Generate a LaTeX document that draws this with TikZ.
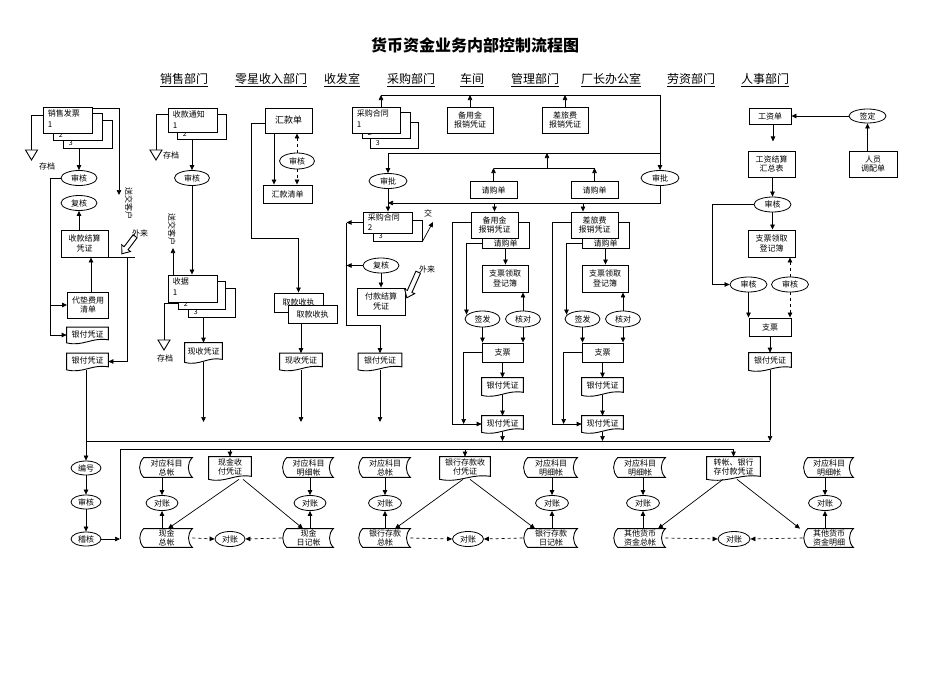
\documentclass[tikz,border=0pt]{standalone}
\usepackage{fontspec}
\setmainfont{Noto Sans CJK SC}
\usetikzlibrary{arrows.meta,shapes.geometric}
\newcommand\docnode[6]{%
  \node[minimum width=#4pt, minimum height=#5pt, inner sep=0pt] (#1) at (#2,#3) {};
  \draw[shapeline] (#1.south west) -- (#1.north west) -- (#1.north east) -- ([yshift=3pt]#1.south east)
     .. controls ([shift={(-0.4*#4pt,6pt)}]#1.south east) and ([shift={(0.4*#4pt,-4pt)}]#1.south west) .. (#1.south west) -- cycle;
  \node[docnode] (#1-t) at ([yshift=1pt]#1.center) {#6};
}
\newcommand\sdnode[6]{%
  \node[minimum width=#4pt, minimum height=#5pt, inner sep=0pt] (#1) at (#2,#3) {};
  \draw[shapeline] ([xshift=5pt]#1.north west) -- (#1.north east) to[out=-135,in=135] (#1.south east)
     -- ([xshift=5pt]#1.south west) to[out=135,in=-135] ([xshift=5pt]#1.north west) -- cycle;
  \node[sdtext] (#1-t) at ([xshift=1pt]#1.center) {#6};
}
\newcommand\archive[3]{%
  \coordinate (#1) at (#2,#3);
  \draw[shapeline] (#1) ++(-6,0) -- ++(12,0) -- ++(-6,10) -- cycle;
}
\newcommand\blockarrow[4]{%
  \begin{scope}[shift={(#1,#2)}, rotate=#3]
    \draw[shapeline] (-#4,-2.5) -- (#4-7,-2.5) -- (#4-7,-5.5) -- (#4,0) -- (#4-7,5.5) -- (#4-7,2.5) -- (-#4,2.5) -- cycle;
  \end{scope}
}
\begin{document}
\begin{tikzpicture}[x=1pt,y=-1pt,
  font=\fontsize{8pt}{9.5pt}\selectfont,
  line width=0.7pt,
  arr/.style={-{Triangle[length=5pt,width=4.5pt]}},
  box/.style={draw, fill=white, line width=0.9pt, align=center, inner sep=1pt},
  ell/.style={ellipse, draw, fill=white, line width=0.8pt, inner sep=0pt, minimum width=36pt, minimum height=15pt},
  docnode/.style={inner sep=1pt, align=center},
  sdtext/.style={inner sep=0pt, align=center, font=\fontsize{8pt}{9pt}\selectfont},
  shapeline/.style={line width=0.9pt, fill=white},
  stk/.style={align=left, inner sep=0pt, anchor=north west, font=\fontsize{8pt}{11pt}\selectfont},
  num/.style={inner sep=0pt, anchor=base west, font=\fontsize{7pt}{8pt}\selectfont},
  hdr/.style={font=\fontsize{12pt}{14pt}\selectfont},
  vtext/.style={rotate=-90, inner sep=0pt},
]
\useasboundingbox (0,0) rectangle (950,672);

% ---------- title and departments ----------
\node[font=\fontsize{16pt}{19pt}\selectfont\bfseries] (title) at (475,45) {货币资金业务内部控制流程图};
\node[hdr] (d1) at (184,80) {\underline{销售部门}};
\node[hdr] (d2) at (271,80) {\underline{零星收入部门}};
\node[hdr] (d3) at (342,80) {\underline{收发室}};
\node[hdr] (d4) at (411,80) {\underline{采购部门}};
\node[hdr] (d5) at (472,80) {\underline{车间}};
\node[hdr] (d6) at (535,80) {\underline{管理部门}};
\node[hdr] (d7) at (611,80) {\underline{厂长办公室}};
\node[hdr] (d8) at (691,80) {\underline{劳资部门}};
\node[hdr] (d9) at (765,80) {\underline{人事部门}};

% ---------- 销售部门 ----------
\node[box, minimum width=49pt, minimum height=28pt] (xs3) at (87.5,134) {};
\node[num] (xs3n) at ([shift={(6pt,3pt)}]xs3.south west) {3};
\node[box, minimum width=49pt, minimum height=27pt] (xs2) at (77.5,126.5) {};
\node[num] (xs2n) at ([shift={(6pt,3pt)}]xs2.south west) {2};
\node[box, minimum width=49pt, minimum height=26pt] (xs1) at (67.5,120) {};
\node[stk] (xs1t) at ([shift={(5pt,-3pt)}]xs1.north west) {销售发票\\1};
\archive{cd1}{31.5}{150}
\node (cd1t) at (47,166) {存档};
\draw ([yshift=5pt]xs1.west) -| (cd1);
\coordinate (sk1) at (119,195);
\draw[arr] ([yshift=-2pt]xs1.north east) -| (sk1);
\node[vtext] (sk1t) at (129,203) {送交客户};

\node[ell] (sh1) at (79,178) {审核};
\node[ell] (fh1) at (79,203) {复核};
\node[box, minimum width=47pt, minimum height=27pt] (skjs) at (84.5,243.5) {收款结算\\凭证};
\node[box, minimum width=41pt, minimum height=26pt] (ddfy) at (88,305) {代垫费用\\清单};
\docnode{yf1}{87.5}{335}{41}{15}{银付凭证}
\docnode{yf2}{87.5}{361.5}{41}{16}{银付凭证}
\draw[arr] (xs3.south -| sh1.north) -- (sh1.north);
\draw[arr] (skjs.north -| fh1.south) -- (fh1.south);
\draw[arr] ([xshift=3pt]ddfy.north) -- ([xshift=3pt]ddfy.north |- skjs.south);
\draw[arr] (sh1.west) -| ([xshift=-17pt]ddfy.west) -- (ddfy.west);
\draw[arr] ([xshift=-17pt]ddfy.west) |- (yf1.west);
\draw (skjs.south east) -- ++(27,0);
\draw[arr] ([xshift=19pt]skjs.south east) |- (yf2.east);
\blockarrow{128.5}{245}{-127}{11}
\node (wl1t) at (140,233) {外来};

% ---------- 零星收入部门 ----------
\node[box, minimum width=49pt, minimum height=25pt] (tz2) at (201.5,126.5) {};
\node[num] (tz2n) at ([shift={(6pt,3pt)}]tz2.south west) {2};
\node[box, minimum width=49pt, minimum height=24pt] (tz1) at (192.5,120) {};
\node[stk] (tz1t) at ([shift={(5pt,-3pt)}]tz1.north west) {收款通知\\1};
\archive{cd2}{156}{150}
\node (cd2t) at (171,155) {存档};
\draw ([yshift=6pt]tz1.west) -| (cd2);
\node[ell, minimum width=35pt] (sh2) at (192,178) {审核};
\draw[arr] (tz2.south -| sh2.north) -- (sh2.north);
\node[box, minimum width=47pt, minimum height=29pt] (sj3) at (211.5,302.5) {};
\node[num] (sj3n) at ([shift={(6pt,3pt)}]sj3.south west) {3};
\node[box, minimum width=47pt, minimum height=28pt] (sj2) at (201.5,295) {};
\node[num] (sj2n) at ([shift={(6pt,3pt)}]sj2.south west) {2};
\node[box, minimum width=49pt, minimum height=27pt] (sj1) at (192.5,288.5) {};
\node[stk] (sj1t) at ([shift={(5pt,-3pt)}]sj1.north west) {收据\\1};
\draw[arr] (sh2.south) -- (sh2.south |- sj1.north);
\coordinate (sk2) at (173,248);
\draw[arr] (sj1.north -| sk2) -- (sk2);
\node[vtext] (sk2t) at (172,229) {送交客户};
\archive{cd3}{164}{340}
\node (cd3t) at (165,358) {存档};
\draw ([yshift=-8pt]sj2.west) -| (cd3);
\docnode{xsa}{203.5}{352.5}{37}{19}{现收凭证}
\draw[arr] (sj3.south -| xsa.north) -- (xsa.north);
\coordinate (e1) at (203.5,422);
\draw[arr] (xsa.south) -- (e1);

% ---------- 收发室 ----------
\node[box, minimum width=47pt, minimum height=25pt, font=\fontsize{9pt}{10pt}\selectfont] (hkd) at (288.5,120.5) {汇款单};
\node[ell, minimum width=35pt, minimum height=16pt] (sh3) at (297,161) {审核};
\node[box, minimum width=49pt, minimum height=18pt] (hkqd) at (287.5,194) {汇款清单};
\draw[arr] ([xshift=-14.5pt]hkd.south) -- ([xshift=-13.5pt]hkqd.north);
\draw[arr, dashed] (sh3.north) -- (sh3.north |- hkd.south);
\draw[arr, dashed] (sh3.south) -- (sh3.south |- hkqd.north);
\node[box, minimum width=49pt, minimum height=19pt] (qk1) at (298.5,302.5) {取款收执};
\node[box, minimum width=49pt, minimum height=18pt] (qk2) at (312.5,314.5) {取款收执};
\coordinate (hk1) at (251,238);
\draw[arr] ([yshift=-2.5pt]hkd.west) -| (hk1) -| (qk1.north);
\docnode{xsb}{301}{361.5}{42}{16}{现收凭证}
\draw[arr] (qk2.south -| xsb.north) -- (xsb.north);
\coordinate (e2) at (301,422);
\draw[arr] (xsb.south) -- (e2);

% ---------- 采购部门 / 车间 / 管理部门 (top) ----------
\node[box, minimum width=48pt, minimum height=26pt] (cg3) at (394,135) {};
\node[num] (cg3n) at ([shift={(6pt,3pt)}]cg3.south west) {3};
\node[box, minimum width=48pt, minimum height=26pt] (cg2) at (386,125) {};
\node[num] (cg2n) at ([shift={(6pt,3pt)}]cg2.south west) {2};
\node[box, minimum width=48pt, minimum height=26pt] (cg1) at (376,120) {};
\node[stk] (cg1t) at ([shift={(5pt,-3pt)}]cg1.north west) {采购合同\\1};
\node[box, minimum width=46pt, minimum height=26pt] (by1) at (470,120) {备用金\\报销凭证};
\node[box, minimum width=46pt, minimum height=26pt] (cl1) at (565,120) {差旅费\\报销凭证};
\coordinate (tl) at (381,95);
\coordinate (tr) at (660,95);
\draw (tl) -- (tr);
\draw[arr] (cg1.north -| tl) -- (tl);
\draw[arr] (by1.north) -- (by1.north |- tl);
\draw[arr] (cl1.north) -- (cl1.north |- tl);

\node[ell, minimum width=38pt] (sp1) at (388,181) {审批};
\node[ell, minimum width=38pt] (sp2) at (660,178) {审批};
\draw[arr] (tr) -- (sp2.north);
\coordinate (m2) at (660,153);
\draw[arr] (m2) -| (sp1.north);
\node[box, minimum width=47pt, minimum height=17pt] (qg1) at (493.5,190) {请购单};
\node[box, minimum width=47pt, minimum height=17pt] (qg2) at (594.5,190) {请购单};
\coordinate (q168) at (547,168);
\draw (qg1.north |- q168) -- (qg2.north |- q168);
\draw[arr] (qg1.north) -- (qg1.north |- q168);
\draw[arr] (qg2.north) -- (qg2.north |- q168);
\draw[arr] (q168) -- (q168 |- m2);

% 采购合同 2/3
\node[box, minimum width=49pt, minimum height=21pt] (cgb) at (397.5,230.5) {};
\node[num] (cgbn) at ([shift={(6pt,2.5pt)}]cgb.south west) {3};
\node[box, minimum width=49pt, minimum height=21pt] (cgf) at (387.5,222.5) {};
\node[stk, font=\fontsize{8pt}{10pt}\selectfont] (cgft) at ([shift={(5pt,-2pt)}]cgf.north west) {采购合同\\2};
\draw[arr] (sp1.south) -- (sp1.south |- cgf.north);
\coordinate (c203) at (388,203);
\draw[arr] (sp2.south) |- (c203);
\coordinate (jiao) at (433,222);
\draw[arr] (cgb.south east) -- (jiao);
\node (jiaot) at (428,213) {交};
\node[ell, minimum width=36pt] (fh2) at (381,265.5) {复核};
\node[box, minimum width=48pt, minimum height=27pt] (fk) at (381,301.5) {付款结算\\凭证};
\draw[arr] (fh2.south) -- (fk.north);
\draw[arr] (cgf.west) -- ++(-16,0);
\draw[arr] (fh2.west) -- ++(-16,0);
\docnode{yf3}{380}{361.5}{43}{16}{银付凭证}
\coordinate (cg325) at (380,325);
\draw[arr] ([xshift=-16pt]cgf.west) |- (cg325) -- (yf3.north);
\coordinate (e3) at (380,422);
\draw[arr] (yf3.south) -- (e3);
\blockarrow{412.5}{285}{-114}{14}
\node (wl2t) at (427,269) {外来};

% ---------- 车间 column (备用金) ----------
\node[box, minimum width=47pt, minimum height=26pt] (by2b) at (505.5,235) {};
\node[inner sep=1pt, anchor=south] (by2bt) at (by2b.south) {请购单};
\node[box, minimum width=47pt, minimum height=26pt] (by2f) at (494.5,225) {备用金\\报销凭证};
\node[box, minimum width=46pt, minimum height=27pt] (zd1) at (505,278.5) {支票领取\\登记簿};
\node[ell, minimum width=35pt, minimum height=16pt] (qf1) at (482.5,319) {签发};
\node[ell, minimum width=35pt, minimum height=16pt] (hd1) at (523,319) {核对};
\node[box, minimum width=41pt, minimum height=19pt] (zp1) at (502.5,352.5) {支票};
\docnode{yf4}{502.5}{386.5}{41}{17}{银付凭证}
\docnode{xf1}{502.5}{424}{41}{16}{现付凭证}
\draw[arr] (by2f.north |- c203) -- (by2f.north);
\draw[arr] ([yshift=3pt]by2f.west) -- ++(-18,0) |- (xf1.west);
\draw[arr] ([yshift=-8pt]by2b.west) -| ([shift={(-16pt,-4pt)}]qf1.north);
\draw[arr] (by2b.south) -- (by2b.south |- zd1.north);
\draw[arr] (hd1.north) -- (hd1.north |- zd1.south);
\draw[arr] (qf1.south) -- (qf1.south |- zp1.north);
\draw[arr] (hd1.south) -- (hd1.south |- zp1.north);
\draw[arr] (zp1.west) -| ([xshift=-18pt]xf1.west);
\draw[arr] (zp1.south) -- (yf4.north);
\draw[arr] (yf4.south) -- (xf1.north);

% ---------- 管理部门 column (差旅费) ----------
\node[box, minimum width=47pt, minimum height=26pt] (cl2b) at (605.5,235) {};
\node[inner sep=1pt, anchor=south] (cl2bt) at (cl2b.south) {请购单};
\node[box, minimum width=47pt, minimum height=26pt] (cl2f) at (594.5,225) {差旅费\\报销凭证};
\node[box, minimum width=46pt, minimum height=27pt] (zd2) at (605,278.5) {支票领取\\登记簿};
\node[ell, minimum width=35pt, minimum height=16pt] (qf2) at (582.5,319) {签发};
\node[ell, minimum width=35pt, minimum height=16pt] (hd2) at (623,319) {核对};
\node[box, minimum width=41pt, minimum height=19pt] (zp2) at (602.5,352.5) {支票};
\docnode{yf5}{602.5}{386.5}{41}{17}{银付凭证}
\docnode{xf2}{602.5}{424}{41}{16}{现付凭证}
\coordinate (cla) at ([xshift=-11.5pt]cl2f.north);
\draw[arr] (cla |- c203) -- (cla);
\draw[arr] ([yshift=3pt]cl2f.west) -- ++(-18,0) |- (xf2.west);
\draw[arr] ([yshift=-8pt]cl2b.west) -| ([shift={(-16pt,-4pt)}]qf2.north);
\draw[arr] (cl2b.south) -- (cl2b.south |- zd2.north);
\draw[arr] (hd2.north) -- (hd2.north |- zd2.south);
\draw[arr] (qf2.south) -- (qf2.south |- zp2.north);
\draw[arr] (hd2.south) -- (hd2.south |- zp2.north);
\draw[arr] (zp2.west) -| ([xshift=-18pt]xf2.west);
\draw[arr] (zp2.south) -- (yf5.north);
\draw[arr] (yf5.south) -- (xf2.north);

% ---------- 劳资部门 / 人事部门 ----------
\node[box, minimum width=42pt, minimum height=16pt] (gzd) at (770,116) {工资单};
\node[ell, minimum width=37pt, minimum height=14pt] (qd) at (867.5,116) {签定};
\node[box, minimum width=48pt, minimum height=26pt] (rydp) at (873,164) {人员\\调配单};
\node[box, minimum width=47pt, minimum height=26pt] (gzhz) at (771.5,164) {工资结算\\汇总表};
\node[ell, minimum width=37pt] (sh4) at (772.5,204.5) {审核};
\node[box, minimum width=47pt, minimum height=27pt] (zd3) at (771.5,243.5) {支票领取\\登记簿};
\node[ell, minimum width=37pt] (sh6) at (748.5,284.5) {审核};
\node[ell, minimum width=37pt] (sh7) at (790,284.5) {审核};
\node[box, minimum width=42pt, minimum height=18pt] (zp3) at (770,327) {支票};
\docnode{yf6}{770}{361.5}{42}{17}{银付凭证}
\draw[arr] (qd.west) -- (gzd.east);
\draw[arr] (rydp.north -| qd.south) -- (qd.south);
\draw[arr] ([xshift=3pt]gzd.south) -- ++(0,17);
\draw[arr] (gzhz.south -| sh4.north) -- (sh4.north);
\draw[arr] (sh4.south) -- (sh4.south |- zd3.north);
\draw[arr] (sh4.west) -- ++(-41,0) |- (sh6.west);
\draw[arr, dashed] (sh7.north) -- (sh7.north |- zd3.south);
\draw[arr, dashed] (sh7.south) -- (sh7.south |- zp3.north);
\draw[arr] (sh6.south) -- (sh6.south |- zp3.north);
\draw[arr] (zp3.south) -- (yf6.north);

% ---------- bottom: 编号 审核 稽核 ----------
\node[ell, minimum width=30pt, minimum height=14pt] (bh) at (86,468) {编号};
\node[ell, minimum width=30pt, minimum height=14pt] (sh5) at (86,502) {审核};
\node[ell, minimum width=30pt, minimum height=14pt] (jh) at (86,539) {稽核};
\draw[arr] (yf2.south -| bh.north) -- (bh.north);
\draw[arr] (bh) -- (sh5);
\draw[arr] (sh5) -- (jh);

% ---------- bottom group: 现金 ----------
\sdnode{ka}{165.5}{467.5}{53}{19}{对应科目\\总帐}
\docnode{xjsf}{230}{468}{42}{22}{现金收\\付凭证}
\sdnode{kb}{307.5}{467.5}{51}{19}{对应科目\\明细帐}
\node[ell, minimum width=32pt] (dz1) at (162,503) {对账};
\node[ell, minimum width=32pt] (dz2) at (310,503) {对账};
\sdnode{xjzz}{165.5}{538}{53}{18}{现金\\总帐}
\node[ell, minimum width=30pt] (dz3) at (230,539) {对账};
\sdnode{xjrj}{307.5}{538}{51}{18}{现金\\日记帐}
\draw[arr] (ka.south -| dz1.north) -- (dz1.north);
\draw[arr] (xjzz.north -| dz1.south) -- (dz1.south);
\draw[arr] (kb.south -| dz2.north) -- (dz2.north);
\draw[arr] (xjrj.north -| dz2.south) -- (dz2.south);
\draw[arr] ([xshift=9pt]xjsf.south) -- ([xshift=2.5pt]xjzz.north);
\draw[arr] ([xshift=13pt]xjsf.south) -- ([xshift=-4.5pt]xjrj.north);
\draw[arr, dashed] (xjzz.east) -- (dz3.west);
\draw[arr, dashed] (xjrj.west) -- (dz3.east);

% ---------- bottom group: 银行存款 ----------
\sdnode{kc}{384}{467.5}{52}{19}{对应科目\\总帐}
\docnode{yhsf}{465}{468}{50}{22}{银行存款收\\付凭证}
\sdnode{kd}{550}{467.5}{54}{19}{对应科目\\明细帐}
\node[ell, minimum width=33pt] (dz4) at (385,503) {对账};
\node[ell, minimum width=33pt] (dz5) at (552,503) {对账};
\sdnode{yhzz}{384}{538}{52}{18}{银行存款\\总帐}
\node[ell, minimum width=31pt] (dz6) at (468,539) {对账};
\sdnode{yhrj}{550}{538}{54}{18}{银行存款\\日记帐}
\draw[arr] (kc.south -| dz4.north) -- (dz4.north);
\draw[arr] (yhzz.north -| dz4.south) -- (dz4.south);
\draw[arr] (kd.south -| dz5.north) -- (dz5.north);
\draw[arr] (yhrj.north -| dz5.south) -- (dz5.south);
\draw[arr] ([xshift=-2pt]yhsf.south) -- ([xshift=11pt]yhzz.north);
\draw[arr] ([xshift=5pt]yhsf.south) -- ([xshift=-15pt]yhrj.north);
\draw[arr, dashed] (yhzz.east) -- (dz6.west);
\draw[arr, dashed] (yhrj.west) -- (dz6.east);

% ---------- bottom group: 其他货币资金 ----------
\sdnode{ke}{639}{467.5}{52}{19}{对应科目\\明细帐}
\docnode{zzyh}{733.5}{468}{53}{22}{转帐、银行\\存付款凭证}
\sdnode{kf}{828}{467.5}{50}{19}{对应科目\\明细帐}
\node[ell, minimum width=33pt] (dz7) at (643,503) {对账};
\node[ell, minimum width=33pt] (dz8) at (825,503) {对账};
\sdnode{qtzz}{639}{538}{52}{18}{其他货币\\资金总帐}
\node[ell, minimum width=32pt] (dz9) at (734,539) {对账};
\sdnode{qtmx}{828}{538}{50}{18}{其他货币\\资金明细}
\draw[arr] (ke.south -| dz7.north) -- (dz7.north);
\draw[arr] (qtzz.north -| dz7.south) -- (dz7.south);
\draw[arr] (kf.south -| dz8.north) -- (dz8.north);
\draw[arr] (qtmx.north -| dz8.south) -- (dz8.south);
\draw[arr] ([xshift=-10.5pt]zzyh.south) -- ([xshift=19pt]qtzz.north);
\draw[arr] ([xshift=3.5pt]zzyh.south) -- ([xshift=-28pt]qtmx.north);
\draw[arr, dashed] (qtzz.east) -- (dz9.west);
\draw[arr, dashed] (qtmx.west) -- (dz9.east);

% ---------- buses ----------
\coordinate (b1L) at (86,441);
\coordinate (b1R) at (770,441);
\draw (b1L) -- (b1R);
\draw[arr] (xf1.south) -- (xf1.south |- b1L);
\draw[arr] (xf2.south) -- (xf2.south |- b1L);
\draw[arr] (yf6.south) -- (b1R);
\coordinate (b2L) at (120,449);
\draw[arr] (jh.east) -- (jh.east -| b2L);
\draw (jh.east -| b2L) -- (b2L) -- (b2L -| zzyh.north);
\draw[arr] (b2L -| xjsf.north) -- (xjsf.north);
\draw[arr] (b2L -| yhsf.north) -- (yhsf.north);
\draw[arr] (b2L -| zzyh.north) -- (zzyh.north);
\end{tikzpicture}
\end{document}
